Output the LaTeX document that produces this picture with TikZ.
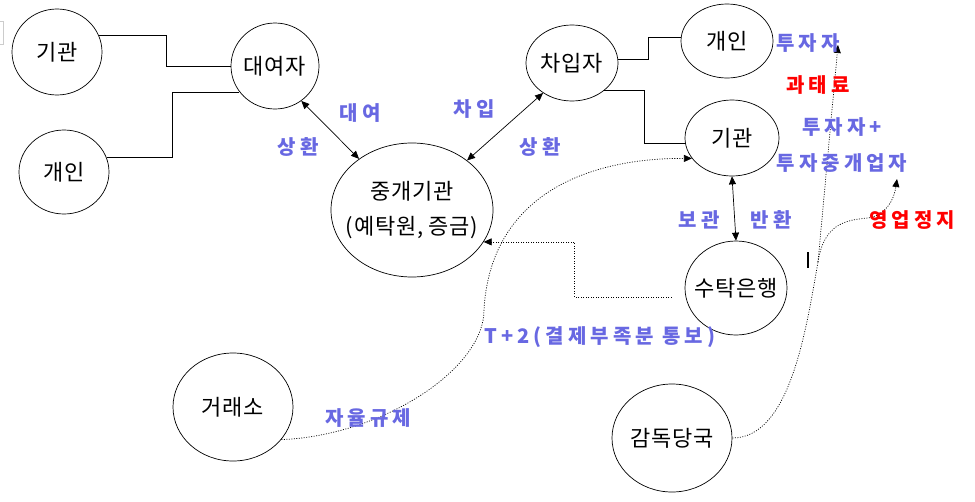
\documentclass[tikz,border=0pt]{standalone}
\usepackage{fontspec}
\usetikzlibrary{shapes.geometric,arrows.meta}
\newfontfamily\kr[LetterSpace=4]{Noto Sans CJK KR}
\newfontfamily\hand[LetterSpace=20]{Noto Sans CJK KR}
\newcommand\ztxt[1]{\makebox[0pt]{#1}}
\definecolor{lblue}{RGB}{104,104,226}
\definecolor{lred}{RGB}{255,0,0}
\tikzset{
  ent/.style={ellipse, draw, line width=0.7pt, inner sep=0pt, font=\kr\fontsize{22}{25}\selectfont},
  conn/.style={line width=0.7pt},
  dbl/.style={line width=0.7pt, {Triangle[length=8pt,width=7pt]}-{Triangle[length=8pt,width=7pt]}},
  dots/.style={line width=0.7pt, dash pattern=on 1pt off 1.5pt},
  dotarr/.style={dots, -{Triangle[length=8pt,width=7pt]}},
  lab/.style={text=lblue, font=\hand\bfseries\fontsize{20}{22}\selectfont, inner sep=0pt},
  redlab/.style={lab, text=lred},
}
\begin{document}
\begin{tikzpicture}[x=1pt,y=-1pt]
\fill[white] (0,0) rectangle (975,501);
\useasboundingbox (0,0) rectangle (975,501);
% entities
\node[ent, minimum width=90pt, minimum height=86pt] (giL) at (57,52) {\ztxt{기관}};
\node[ent, minimum width=90pt, minimum height=84pt] (gaeL) at (64,172) {\ztxt{개인}};
\node[ent, minimum width=88pt, minimum height=86pt] (dae) at (275,66) {\ztxt{대여자}};
\node[ent, minimum width=162pt, minimum height=134pt, align=center, font=\kr\fontsize{22}{35}\selectfont] (jung) at (412,210) {\ztxt{중개기관}\\\ztxt{(예탁원,\hspace{5pt}증금)}};
\node[ent, minimum width=92pt, minimum height=76pt] (cha) at (572,63) {\ztxt{차입자}};
\node[ent, minimum width=92pt, minimum height=74pt] (gaeR) at (727,41) {\ztxt{개인}};
\node[ent, minimum width=94pt, minimum height=76pt] (giR) at (732,138) {\ztxt{기관}};
\node[ent, minimum width=102pt, minimum height=94pt] (su) at (736,288) {\ztxt{수탁은행}};
\node[ent, minimum width=120pt, minimum height=108pt] (gam) at (672,438) {\ztxt{감독당국}};
\node[ent, minimum width=120pt, minimum height=108pt] (geo) at (233,407) {\ztxt{거래소}};
% connectors
\draw[conn] (giL.22) -- ++(68,0) |- (dae.west);
\draw[conn] (gaeL.19) -- ++(66,0) |- (dae.216);
\draw[dbl] (dae.-53) -- (jung.136);
\draw[dbl] (cha.226) -- (jung.42);
\draw[conn] (cha.5) -- ++(30,0) |- (gaeR.175);
\draw[conn] (cha.-41) -- ++(40,0) |- (giR.187);
\draw[dbl] (giR.south) -- (su.north);
\draw[dotarr] ([xshift=-13pt,yshift=-9pt]su.west) -- ++(-97,0) |- (jung.-24);
\draw[dotarr] (geo.-34) .. controls (380,436) and (484,370) .. (484,310)
   .. controls (490,200) and (580,158) .. (giR.207);
\coordinate (split) at (818,262);
\coordinate (tzTip) at (838,45);
\coordinate (ygTip) at (897,179);
\draw[dots] (gam.east) .. controls (790,438) and (806,330) .. (split);
\draw[dotarr] (split) -- (tzTip);
\draw[dotarr] (split) .. controls (824,224) and (845,220) .. (868,218)
   .. controls (886,215) and (894,200) .. (ygTip);
% stray marks
\draw[line width=1.2pt] (808,252) -- (808,268);
\draw[gray!40, line width=0.8pt] (0,21) -- (3,21) -- (3,44) -- (0,44);
% labels
\node[lab] (lDaeyeo) at (360,113) {대여};
\node[lab] (lSang1) at (298,147) {상환};
\node[lab] (lChaip) at (474,109) {차입};
\node[lab] (lSang2) at (540,147) {상환};
\node[lab] (lBogwan) at (699,220) {보관};
\node[lab] (lBanhwan) at (771,220) {반환};
\node[lab] (lTuja) at (808,43) {투자자};
\node[redlab] (lGwa) at (818,85) {과태료};
\node[lab] (lTujaPlus) at (842,127) {투자자+};
\node[lab] (lTujaJung) at (842,163) {투자중개업자};
\node[redlab] (lYeong) at (912,220) {영업정지};
\node[lab] (lT2) at (600,337) {T+2(결제부족분 통보)};
\node[lab] (lJayul) at (368,418) {자율규제};
\end{tikzpicture}
\end{document}
